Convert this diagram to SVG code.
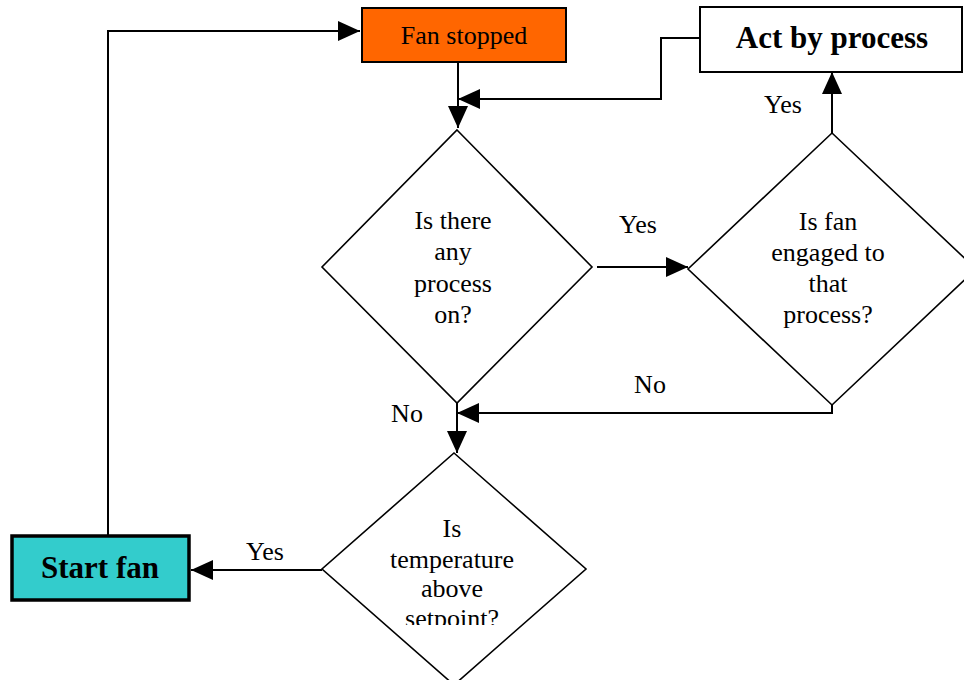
<svg xmlns="http://www.w3.org/2000/svg" width="964" height="680" viewBox="0 0 964 680">
<defs>
<style>
.t{font-family:"Liberation Serif","Times New Roman",serif;font-size:26px;fill:#000;text-anchor:middle}
.b{font-family:"Liberation Serif","Times New Roman",serif;font-size:31px;font-weight:bold;fill:#000;text-anchor:middle}
.d{fill:#fff;stroke:#000;stroke-width:1.6}
.c{fill:none;stroke:#000;stroke-width:2}
</style>
<marker id="ah" viewBox="0 0 22 20" refX="22" refY="10" markerWidth="22" markerHeight="20" markerUnits="userSpaceOnUse" orient="auto">
<path d="M0,0 L22,10 L0,20 Z" fill="#000"/>
</marker>
<clipPath id="clip3"><rect x="300" y="440" width="320" height="185"/></clipPath>
</defs>
<rect width="964" height="680" fill="#fff"/>
<g id="connectors">
<path class="c" d="M458,62 V128" marker-end="url(#ah)"/>
<path class="c" d="M700,38 H661 V99 H458" marker-end="url(#ah)"/>
<path class="c" d="M597,267 H688" marker-end="url(#ah)"/>
<path class="c" d="M832,133 V72" marker-end="url(#ah)"/>
<path class="c" d="M832,405 V413 H457" marker-end="url(#ah)"/>
<path class="c" d="M457,403 V453" marker-end="url(#ah)"/>
<path class="c" d="M322,570 H191" marker-end="url(#ah)"/>
<path class="c" d="M108,535 V31 H360" marker-end="url(#ah)"/>
<text class="t" x="638" y="233">Yes</text>
<text class="t" x="783" y="113">Yes</text>
<text class="t" x="650" y="393">No</text>
<text class="t" x="407" y="422">No</text>
<text class="t" x="265" y="560">Yes</text>
</g>
<g id="fan-stopped">
<rect x="362" y="8" width="204" height="54" fill="#FF6600" stroke="#000" stroke-width="2"/>
<text class="t" x="464" y="44">Fan stopped</text>
</g>
<g id="act-by-process">
<rect x="700" y="7" width="262" height="65" fill="#fff" stroke="#000" stroke-width="2"/>
<text class="b" x="832" y="48">Act by process</text>
</g>
<g id="process-on">
<polygon class="d" points="457,130 592,267 457,403 322,267"/>
<text class="t" x="453" y="229">Is there</text>
<text class="t" x="453" y="260">any</text>
<text class="t" x="453" y="292">process</text>
<text class="t" x="453" y="323">on?</text>
</g>
<g id="fan-engaged">
<polygon class="d" points="832,133 976,269 832,405 688,269"/>
<text class="t" x="828" y="230">Is fan</text>
<text class="t" x="828" y="261">engaged to</text>
<text class="t" x="828" y="292">that</text>
<text class="t" x="828" y="323">process?</text>
</g>
<g id="temperature">
<polygon class="d" points="454,453 586,569 454,685 322,569"/>
<g clip-path="url(#clip3)">
<text class="t" x="452" y="537">Is</text>
<text class="t" x="452" y="568">temperature</text>
<text class="t" x="452" y="597">above</text>
<text class="t" x="452" y="627">setpoint?</text>
</g>
</g>
<g id="start-fan">
<rect x="12" y="536" width="177" height="64" fill="#33CCCC" stroke="#000" stroke-width="3.5"/>
<text class="b" x="100" y="578">Start fan</text>
</g>
</svg>
